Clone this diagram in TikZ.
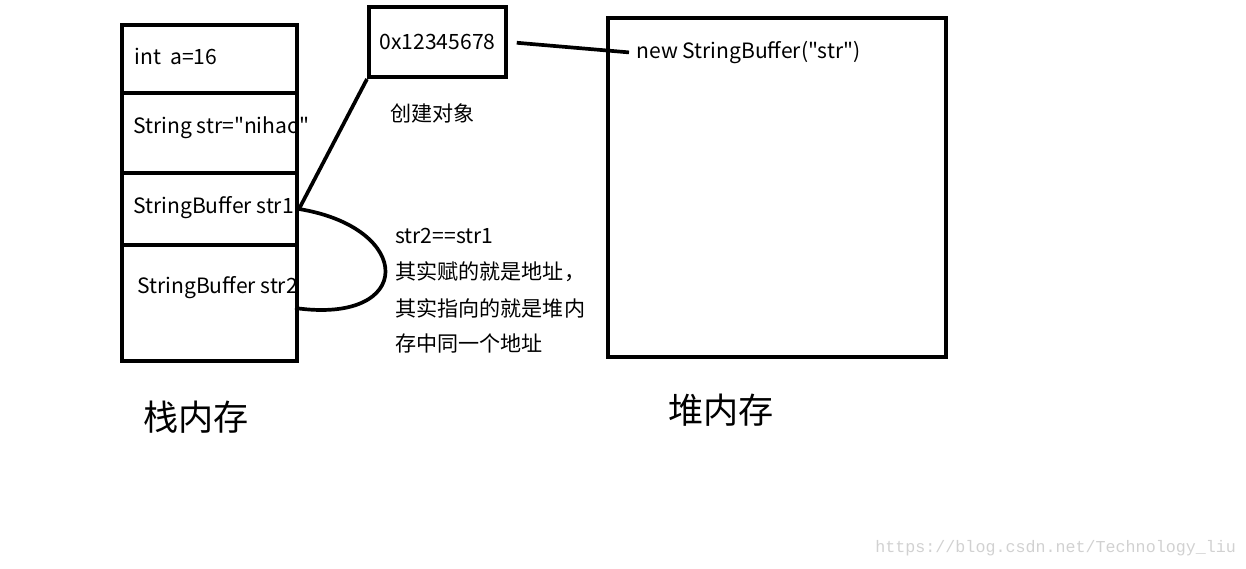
\documentclass[tikz,border=0pt]{standalone}
\usepackage{fontspec}
\setmainfont{Noto Sans CJK SC}[Ligatures=TeXOff]
\newfontfamily\wmfont{Liberation Mono}
\begin{document}
\begin{tikzpicture}[
                x=0.02cm, y=-0.02cm,
                box/.style={draw, line width=2.3pt, inner sep=0pt},
                txt/.style={anchor=west, inner sep=0pt, font=\fontsize{12}{14}\selectfont},
                big/.style={anchor=west, inner sep=0pt, font=\fontsize{20}{24}\selectfont},
                link/.style={line width=2.1pt}
            ]
                \useasboundingbox (0,0) rectangle (1246,568);

                % stack cells
                \foreach \name/\top/\bot in {c1/25/93, c2/93/173, c3/173/245, c4/245/361} {
                    \node[box, minimum width=3.5cm, minimum height={(\bot-\top)*0.02cm}] (\name) at (209.5, {(\top+\bot)/2}) {};
                }
                \node[txt] (int) at (134, 56) {int~~a=16};
                \node[txt] (str) at (133, 128) {String str="nihao"};
                \node[txt] (sb1) at (133, 208) {StringBuffer str1};
                \node[txt] (sb2) at (137, 288) {StringBuffer str2};

                % address and heap
                \node[box, minimum width=2.74cm, minimum height=1.4cm, font=\fontsize{12}{14}\selectfont] (addr) at (437.5, 42) {0x12345678};
                \node[txt] (create) at (390, 113) {创建对象};
                \node[box, minimum width=6.76cm, minimum height=6.78cm] (heap) at (777, 187.5) {};
                \node[txt] (obj) at (636, 53) {new StringBuffer("str")};

                \foreach \i/\y/\line in {n1/236/str2==str1, n2/272/其实赋的就是地址，, n3/308/其实指向的就是堆内, n4/343/存中同一个地址} {
                    \node[txt] (\i) at (395, \y) {\line};
                }

                \node[big] (stacklbl) at (143, 417) {栈内存};
                \node[big] (heaplbl) at (668, 410) {堆内存};
                \node[anchor=west, inner sep=0pt, text=black!18, font=\wmfont\fontsize{9.5}{11}\selectfont] (wm) at (875, 548) {https://blog.csdn.net/Technology\_liu};

                \coordinate (back) at (295, 308);
                \draw[link] (c3.east) -- (addr.south west);
                \draw[link, shorten <=5pt, shorten >=4pt] (addr.east) -- (obj.west);
                \draw[link] (c3.east) .. controls (415, 228) and (415, 325) .. (back);
            \end{tikzpicture}
\end{document}
